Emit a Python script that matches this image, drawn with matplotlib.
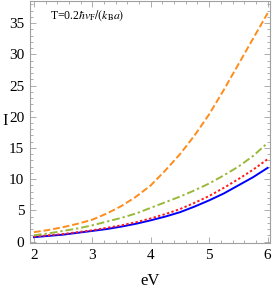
import numpy as np
import matplotlib.pyplot as plt
from matplotlib.ticker import MultipleLocator

plt.rcParams['font.family'] = ['Liberation Serif', 'DejaVu Serif']
plt.rcParams['mathtext.fontset'] = 'stix'

# eV values and currents
ev = [2.0, 2.25, 2.5, 2.75, 3.0, 3.25, 3.5, 3.75, 4.0, 4.25, 4.5, 4.75, 5.0, 5.25, 5.5, 5.75, 6.0]
i_orange = [1.5, 1.85, 2.3, 2.85, 3.5, 4.5, 5.7, 7.2, 9.0, 11.4, 14.0, 17.0, 20.4, 24.3, 28.4, 32.5, 36.6]
i_green = [1.0, 1.3, 1.7, 2.1, 2.6, 3.2, 3.8, 4.5, 5.4, 6.3, 7.2, 8.2, 9.3, 10.6, 12.0, 13.7, 15.8]
i_red = [0.8, 1.0, 1.2, 1.5, 1.8, 2.2, 2.6, 3.1, 3.7, 4.4, 5.2, 6.2, 7.3, 8.6, 10.0, 11.5, 13.2]
i_blue = [0.7, 0.9, 1.1, 1.4, 1.7, 2.0, 2.4, 2.85, 3.4, 4.0, 4.7, 5.6, 6.6, 7.7, 9.0, 10.3, 11.8]

fig = plt.figure(figsize=(2.72, 2.93), dpi=100)
ax = fig.add_axes([0.110, 0.1706, 0.883, 0.827])

ax.plot(ev, i_blue, color='#0000ff', lw=1.4, ls='-')
ax.plot(ev, i_red, color='#ff1a1a', lw=1.4, ls=(0, (1.2, 1.2)))
ax.plot(ev, i_green, color='#9ab83a', lw=1.4, ls=(0, (4, 1.5, 1.2, 1.5)))
ax.plot(ev, i_orange, color='#ff8c1a', lw=1.4, ls=(0, (3.5, 1.5)))

ax.set_xlim(1.931, 6.043)
ax.set_ylim(-0.24, 38.6)
ax.xaxis.set_major_locator(MultipleLocator(1))
ax.xaxis.set_minor_locator(MultipleLocator(0.2))
ax.yaxis.set_major_locator(MultipleLocator(5))
ax.yaxis.set_minor_locator(MultipleLocator(1))

for s in ax.spines.values():
    s.set_color('#a0a0a0')
    s.set_linewidth(0.8)
ax.tick_params(which='both', direction='in', top=True, right=True, color='#a0a0a0', width=0.6)
ax.tick_params(which='major', length=4, labelsize=11, pad=4)
ax.tick_params(which='minor', length=2)

ax.set_xlabel('eV', fontsize=12, labelpad=8)
fig.text(0.008, 0.587, 'I', fontsize=12, ha='left', va='center')

ax.text(0.085, 0.94, r'T=0.2$\hbar v_{\rm F}/(k_{\rm B}a)$', transform=ax.transAxes,
        fontsize=8.5, va='center', ha='left')

fig.savefig('out.png', dpi=100)
